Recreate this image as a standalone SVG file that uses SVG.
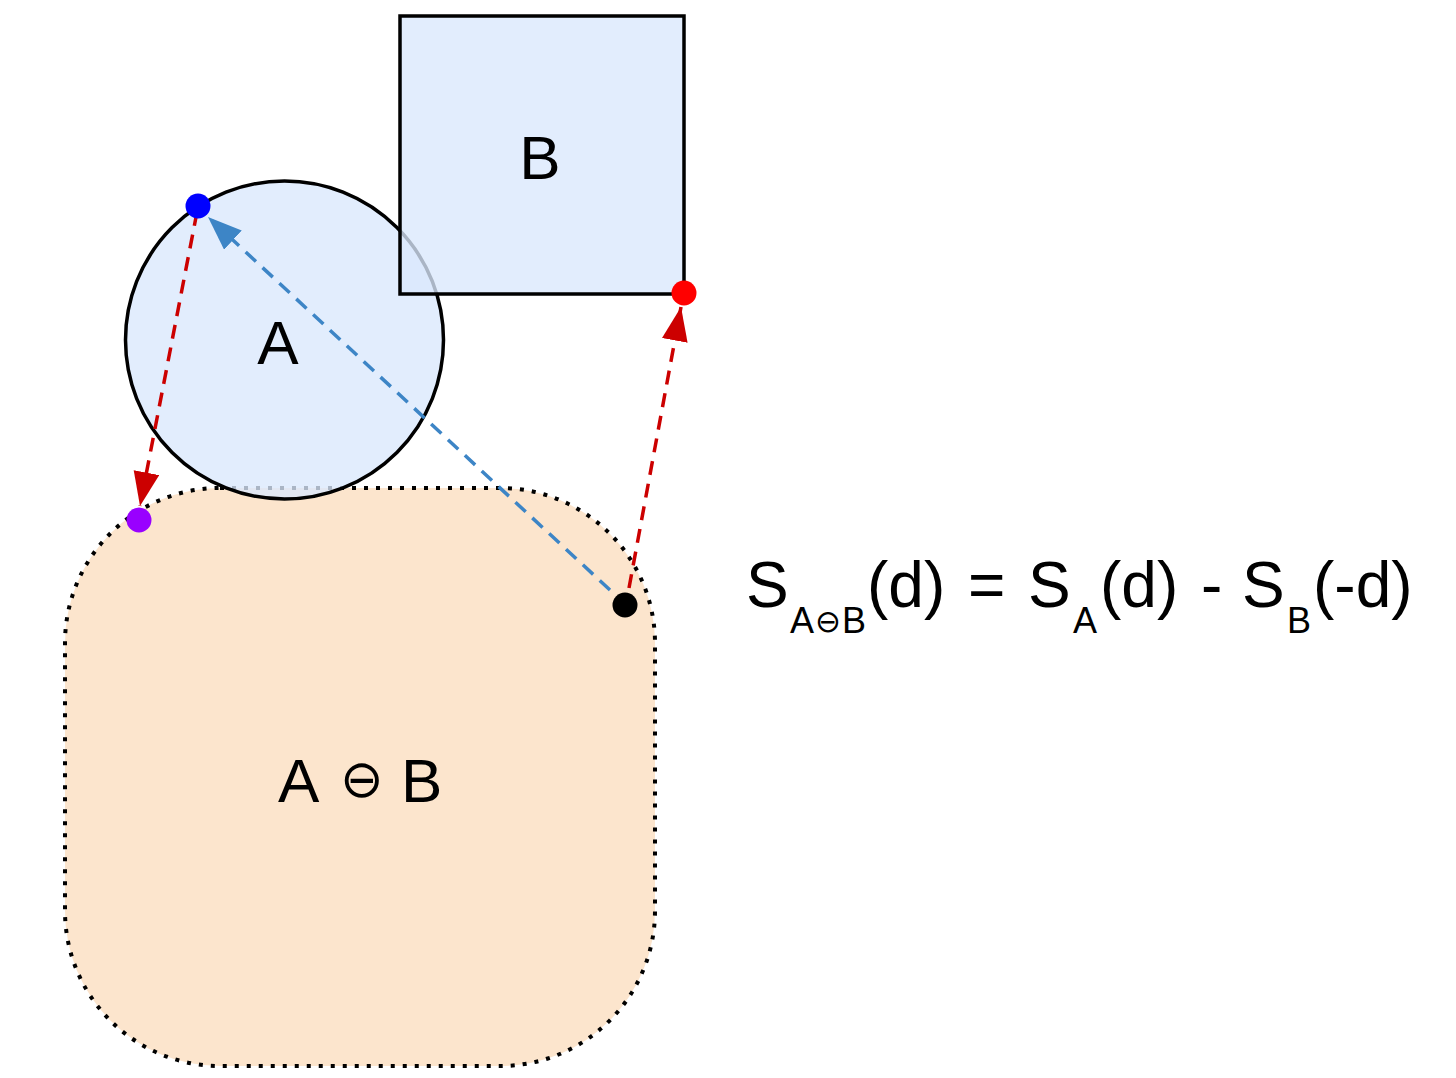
<svg xmlns="http://www.w3.org/2000/svg" width="1456" height="1078" viewBox="0 0 1456 1078">
<style>
text{font-family:"Liberation Sans",Arial,sans-serif;fill:#000}
.lbl{font-size:62px;text-anchor:middle}
.f{font-size:64px}
.s{font-size:36px}
.sym{font-family:"DejaVu Sans",sans-serif}
.red{stroke:#cc0000;stroke-width:3.5;stroke-dasharray:14 9;fill:none}
.blue{stroke:#3d85c6;stroke-width:3.5;stroke-dasharray:14 9;fill:none}
.shape{fill:#dae8fc;fill-opacity:0.78;stroke:#000;stroke-width:3.5}
</style>
<defs>
<marker id="ar" markerUnits="userSpaceOnUse" markerWidth="36" markerHeight="28" refX="34" refY="13" orient="auto"><path d="M0,0 L34,13 L0,26 z" fill="#cc0000"/></marker>
<marker id="ab" markerUnits="userSpaceOnUse" markerWidth="36" markerHeight="28" refX="34" refY="13" orient="auto"><path d="M0,0 L34,13 L0,26 z" fill="#3d85c6"/></marker>
</defs>
<g id="AminusB">
<rect x="65" y="488" width="590" height="578" rx="155" ry="155" fill="#fce5cd" stroke="#000" stroke-width="4" stroke-dasharray="4 8"/>
<text x="278" y="802" font-size="62px">A</text>
<text class="sym" x="340" y="797" font-size="52px">⊖</text>
<text x="401" y="802" font-size="62px">B</text>
</g>
<g id="A">
<circle class="shape" cx="284.5" cy="340" r="159"/>
<text class="lbl" x="278" y="364">A</text>
</g>
<g id="B">
<rect class="shape" x="400" y="16" width="284" height="278"/>
<text class="lbl" x="540" y="179">B</text>
</g>
<g id="connectors">
<line class="red" x1="197" y1="212" x2="140" y2="506" marker-end="url(#ar)"/>
<line class="red" x1="629" y1="588" x2="681" y2="307" marker-end="url(#ar)"/>
<line class="blue" x1="610" y1="590" x2="208" y2="217" marker-end="url(#ab)"/>
</g>
<g id="points">
<circle cx="198" cy="206" r="12.5" fill="#0000ff"/>
<circle cx="684" cy="293" r="12.5" fill="#ff0000"/>
<circle cx="139" cy="520" r="12.5" fill="#9900ff"/>
<circle cx="625" cy="605" r="12.5" fill="#000"/>
</g>
<g id="formula">
<text class="f" x="746" y="607">S</text>
<text class="s" x="790" y="633">A</text>
<text class="sym" x="815" y="632" font-size="31px">⊖</text>
<text class="s" x="842" y="633">B</text>
<text class="f" x="867" y="607">(d)</text>
<text class="f" x="968" y="607">=</text>
<text class="f" x="1028" y="607">S</text>
<text class="s" x="1073" y="633">A</text>
<text class="f" x="1100" y="607">(d)</text>
<text class="f" x="1201" y="607">-</text>
<text class="f" x="1242" y="607">S</text>
<text class="s" x="1287" y="633">B</text>
<text class="f" x="1313" y="607">(-d)</text>
</g>
</svg>
